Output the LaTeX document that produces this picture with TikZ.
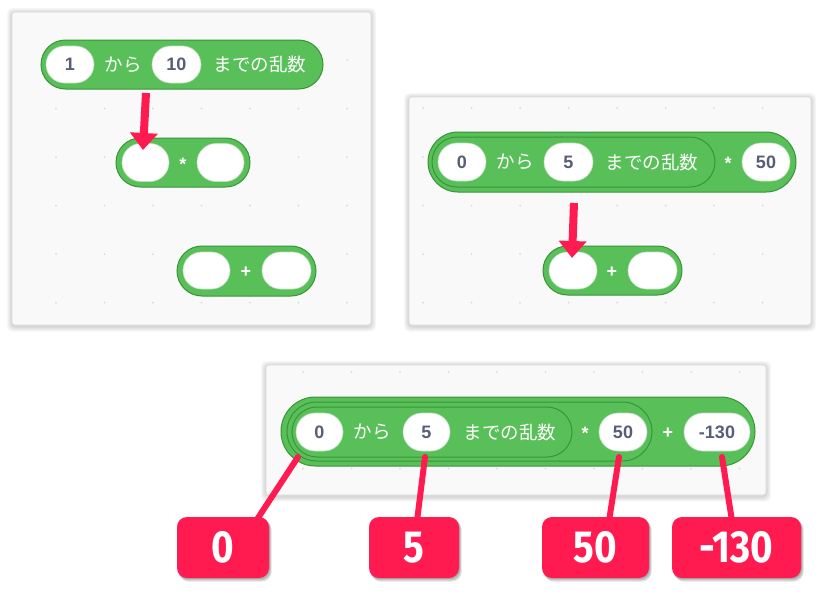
\documentclass[tikz,border=0pt]{standalone}
\usepackage{fontspec}
\newfontfamily\cjk{Noto Sans CJK JP}
\newfontfamily\numfont{Liberation Sans}
\newfontfamily\labfont{Fira Sans}[FakeStretch=0.86]
\usetikzlibrary{shapes.misc,arrows.meta}
\definecolor{blockgreen}{HTML}{59C059}
\definecolor{blockedge}{HTML}{389438}
\definecolor{pinkred}{HTML}{FF1A4F}
\definecolor{numgray}{HTML}{575E75}
\definecolor{panelbg}{HTML}{F9F9F9}
\definecolor{dotgray}{HTML}{D6DCD6}
\tikzset{
 panel/.style={fill=panelbg, draw=black!14, line width=0.6pt, rounded corners=3pt},
 pshadow/.style={fill=black, opacity=0.03, rounded corners=5pt},
 blk/.style={rounded rectangle, fill=blockgreen, draw=blockedge, line width=1pt, inner sep=0pt, outer sep=0pt},
 slot/.style={rounded rectangle, fill=white, draw=blockedge!30, line width=0.6pt, inner sep=0pt, outer sep=0pt},
 num/.style={font=\numfont\bfseries\fontsize{18}{20}\selectfont, text=numgray, inner sep=0pt},
 jp/.style={font=\cjk\fontsize{18.5}{20}\selectfont, text=white, inner sep=0pt},
 op/.style={font=\numfont\bfseries\fontsize{18}{20}\selectfont, text=white, inner sep=0pt},
 gdot/.style={fill=dotgray},
 pinkarrow/.style={draw=pinkred, line width=8pt, -{Triangle[width=27pt,length=17pt]}},
 pinkline/.style={draw=pinkred, line width=6pt, line cap=round},
 labelbox/.style={rounded corners=10pt, fill=pinkred, text=white, font=\labfont\bfseries\fontsize{45}{46}\selectfont, inner sep=0pt, minimum height=61pt},
 lshadow/.style={fill=black, opacity=0.12, rounded corners=10pt},
}
\begin{document}
\begin{tikzpicture}[x=1pt,y=-1pt]
\useasboundingbox (0,0) rectangle (823,600);
\fill[white] (0,0) rectangle (823,600);

% ---------- panels with soft shadows ----------
\foreach \xa/\ya/\xb/\yb in {12/12/371/325, 409/97/811/325, 266/365/766/495}{
  \foreach \e in {5,4,3,2,1}{
    \fill[pshadow] (\xa-\e,\ya-\e+1) rectangle (\xb+\e,\yb+\e+1.5);
  }
  \draw[panel] (\xa,\ya) rectangle (\xb,\yb);
}

% ---------- grid dots ----------
\foreach \gx in {56,104.5,153,201.5,250,298.5,347}{
  \foreach \gy in {60,108.5,157,205.5,254,302.5}{
    \fill[gdot] (\gx,\gy) circle (1pt);
  }
}
\foreach \gx in {423,471.5,520,568.5,617,665.5,714,762.5}{
  \foreach \gy in {108,157,205.5,254,302.5}{
    \fill[gdot] (\gx,\gy) circle (1pt);
  }
}
\foreach \gx in {303,351.5,400,448.5,497,545.5,594,642.5,691,739.5}{
  \foreach \gy in {372,468.5}{
    \fill[gdot] (\gx,\gy) circle (1pt);
  }
}

% ---------- panel 1 ----------
\node[blk, minimum width=282pt, minimum height=49pt] (A1) at (182,64.5) {};
\node[slot, minimum width=48pt, minimum height=37pt] (A1a) at (70,64.5) {};
\node[num] at (A1a) {1};
\node[jp] (A1t) at (123,64.5) {から};
\node[slot, minimum width=49pt, minimum height=37pt] (A1b) at (176.5,64.5) {};
\node[num] at (A1b) {10};
\node[jp] (A1u) at (260,64.5) {までの乱数};

\node[blk, minimum width=134pt, minimum height=49pt] (B1) at (183,162.5) {};
\node[slot, minimum width=47pt, minimum height=38pt] (B1a) at (145.5,162.5) {};
\node[slot, minimum width=47pt, minimum height=38pt] (B1b) at (220.5,162.5) {};
\node[op] (B1o) at (183,164) {*};

\node[blk, minimum width=139pt, minimum height=50pt] (C1) at (246.5,271) {};
\node[slot, minimum width=47pt, minimum height=37pt] (C1a) at (206.5,270.5) {};
\node[slot, minimum width=49pt, minimum height=37pt] (C1b) at (286.5,270.5) {};
\node[op] (C1o) at (246,272) {+};

\coordinate (a1s) at (146,93);
\coordinate (a1e) at (143,150);
\draw[pinkarrow] (a1s) -- (a1e);

% ---------- panel 2 ----------
\node[blk, minimum width=368pt, minimum height=60pt] (A2) at (612,162) {};
\node[blk, minimum width=283pt, minimum height=50pt] (A2i) at (573.5,162) {};
\node[slot, minimum width=48pt, minimum height=38pt] (A2a) at (462,162) {};
\node[num] at (A2a) {0};
\node[jp] (A2t) at (515,162) {から};
\node[slot, minimum width=49pt, minimum height=38pt] (A2b) at (568.5,162) {};
\node[num] at (A2b) {5};
\node[jp] (A2u) at (652,162) {までの乱数};
\node[op] (A2o) at (728,163.5) {*};
\node[slot, minimum width=48pt, minimum height=38pt] (A2c) at (766,162) {};
\node[num] at (A2c) {50};

\node[blk, minimum width=139pt, minimum height=49pt] (C2) at (612.5,270.5) {};
\node[slot, minimum width=48pt, minimum height=37pt] (C2a) at (573,270.5) {};
\node[slot, minimum width=49pt, minimum height=37pt] (C2b) at (652.5,270.5) {};
\node[op] (C2o) at (612,272) {+};

\coordinate (a2s) at (574,203);
\coordinate (a2e) at (572,258);
\draw[pinkarrow] (a2s) -- (a2e);

% ---------- panel 3 ----------
\node[blk, minimum width=474pt, minimum height=69pt] (A3) at (518,431.5) {};
\node[blk, minimum width=365pt, minimum height=59pt] (A3m) at (469.5,431.5) {};
\node[blk, minimum width=280pt, minimum height=50pt] (A3i) at (432,432) {};
\node[slot, minimum width=47pt, minimum height=38pt] (A3a) at (319.5,432) {};
\node[num] at (A3a) {0};
\node[jp] (A3t) at (372,432) {から};
\node[slot, minimum width=47pt, minimum height=38pt] (A3b) at (426.5,432) {};
\node[num] at (A3b) {5};
\node[jp] (A3u) at (510,432) {までの乱数};
\node[op] (A3o) at (585,433.5) {*};
\node[slot, minimum width=48pt, minimum height=38pt] (A3c) at (623,432) {};
\node[num] at (A3c) {50};
\node[op] (A3p) at (668,433) {+};
\node[slot, minimum width=66pt, minimum height=38pt] (A3d) at (717,432) {};
\node[num] at (A3d) {-130};

% ---------- callout lines ----------
\coordinate (s0) at (298,457);
\coordinate (e0) at (256,521);
\coordinate (s1) at (425,457);
\coordinate (e1) at (417,521);
\coordinate (s2) at (619,457);
\coordinate (e2) at (609,521);
\coordinate (s3) at (722,457);
\coordinate (e3) at (732,521);
\draw[pinkline] (s0) -- (e0);
\draw[pinkline] (s1) -- (e1);
\draw[pinkline] (s2) -- (e2);
\draw[pinkline] (s3) -- (e3);

% ---------- labels ----------
\foreach \xa/\xb in {177/269, 369/459, 542/649, 672/801}{
  \foreach \e in {1,2,3}{
    \fill[lshadow] (\xa+\e*0.7,517+\e) rectangle (\xb+\e*0.9,578+\e*1.2);
  }
}
\node[labelbox, minimum width=92pt] (L0) at (223,547.5) {0};
\node[labelbox, minimum width=90pt] (L1) at (414,547.5) {5};
\node[labelbox, minimum width=107pt] (L2) at (595.5,547.5) {50};
\node[labelbox, minimum width=129pt] (L3) at (736.5,547.5) {-130};
\end{tikzpicture}
\end{document}
